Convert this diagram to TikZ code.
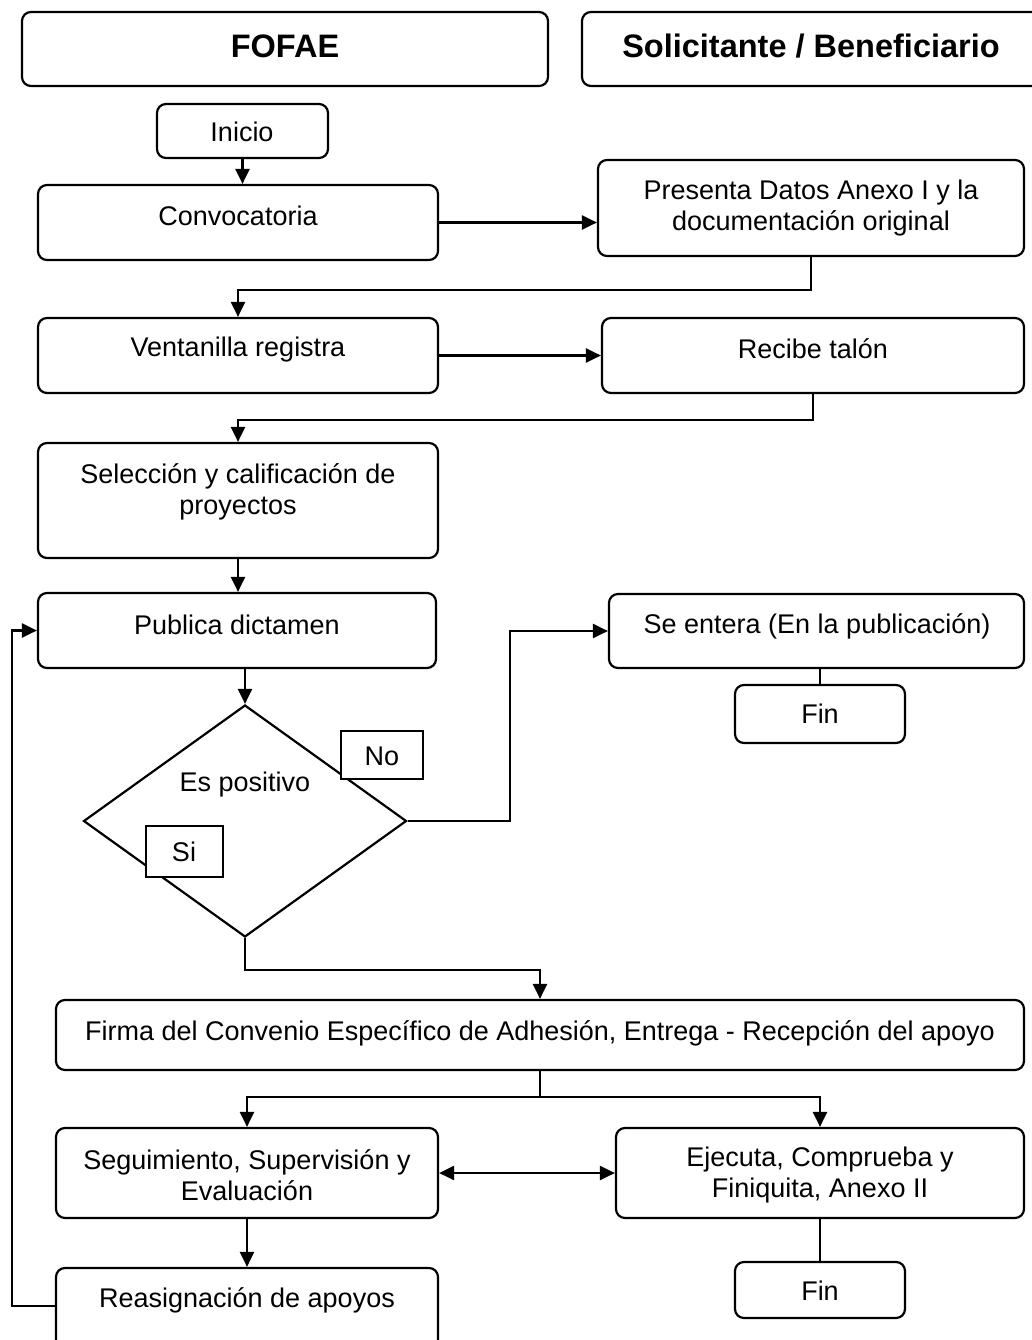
\documentclass[tikz,border=0pt]{standalone}
\usepackage{fontspec}
\setmainfont{Liberation Sans}
\usetikzlibrary{arrows.meta,shapes.geometric}
\tikzset{
  box/.style={draw, line width=2.2pt, rounded corners=9pt, inner sep=0pt, fill=white},
  sqbox/.style={draw, line width=2.4pt, inner sep=0pt, fill=white},
  txt/.style={font=\fontsize{27}{31}\selectfont, align=center, inner sep=0pt},
  hdr/.style={font=\fontsize{32.5}{38}\selectfont\bfseries, inner sep=0pt},
  conn/.style={line width=2.2pt},
  arr/.style={line width=2.2pt, -{Triangle[length=15pt,width=14pt]}},
  darr/.style={line width=2.2pt, {Triangle[length=15pt,width=14pt]}-{Triangle[length=15pt,width=14pt]}},
}
\newcommand{\mybox}[6][box]{\node[#1, minimum width={#5-#3}, minimum height={#6-#4}] (#2) at ({(#3+#5)/2},{(#4+#6)/2}) {};}
\begin{document}
\begin{tikzpicture}[x=1pt,y=-1pt]
\useasboundingbox (0,0) rectangle (1031,1340);
% headers
\mybox{hfo}{22}{12}{548}{86}
\node[hdr] (thfo) at (285,46) {FOFAE};
\mybox{hsol}{582}{12}{1044}{86}
\node[hdr] (thsol) at (811,46) {Solicitante / Beneficiario};
% boxes
\mybox{ini}{157}{104}{328}{158}
\node[txt] (tini) at (242,132) {Inicio};
\mybox{conv}{38}{185}{438}{260}
\node[txt] (tconv) at (238,216) {Convocatoria};
\mybox{pres}{598}{160}{1024}{256}
\node[txt] (tpres) at (811,208) {Presenta Datos Anexo I y la\\documentación original};
\mybox{vent}{38}{318}{438}{393}
\node[txt] (tvent) at (238,350) {Ventanilla registra};
\mybox{rec}{602}{318}{1024}{393}
\node[txt] (trec) at (813,349) {Recibe talón};
\mybox{sel}{38}{443}{438}{558}
\node[txt] (tsel) at (238,492) {Selección y calificación de\\proyectos};
\mybox{pub}{38}{593}{436}{668}
\node[txt] (tpub) at (237,625) {Publica dictamen};
\mybox{sent}{609}{594}{1024}{668}
\node[txt] (tsent) at (817,626) {Se entera (En la publicación)};
\mybox{fin1}{735}{685}{905}{743}
\node[txt] (tfin1) at (820,714) {Fin};
% diamond
\node[draw, diamond, line width=2.2pt, inner sep=0pt, minimum width=323pt, minimum height=232pt] (dia) at (245,821) {};
\node[txt] (tdia) at (245,785) {Es positivo};
\mybox[sqbox]{nob}{341}{731}{423}{779}
\node[txt] (tno) at (382,756) {No};
\mybox[sqbox]{sib}{146}{826}{223}{877}
\node[txt] (tsi) at (184,852) {Si};
\mybox{firma}{56}{1000}{1024}{1070}
\node[txt] (tfirma) at (540,1033) {Firma del Convenio Específico de Adhesión, Entrega - Recepción del apoyo};
\mybox{seg}{56}{1128}{438}{1218}
\node[txt] (tseg) at (247,1175) {Seguimiento, Supervisión y\\Evaluación};
\mybox{eje}{616}{1128}{1024}{1218}
\node[txt] (teje) at (820,1175) {Ejecuta, Comprueba y\\Finiquita, Anexo II};
\mybox{reas}{56}{1268}{438}{1350}
\node[txt] (treas) at (247,1300) {Reasignación de apoyos};
\mybox{fin2}{735}{1262}{905}{1318}
\node[txt] (tfin2) at (820,1291) {Fin};
% connectors
\draw[arr] (ini.south) -- (ini.south |- conv.north);
\draw[arr] (conv.east) -- (conv.east -| pres.west);
\draw[arr] (pres.south) -- (pres.south |- 0,290) -| (vent.north);
\draw[arr] (vent.east) -- (vent.east -| rec.west);
\draw[arr] (rec.south) -- (rec.south |- 0,420) -| (sel.north);
\draw[arr] (sel.south) -- (sel.south |- pub.north);
\draw[arr] (dia.north |- pub.south) -- (dia.north);
\draw[arr] (dia.east) -- (510,821) |- (sent.west);
\draw[conn] (sent.south -| fin1.north) -- (fin1.north);
\draw[arr] (dia.south) -- (245,970) -| (firma.north);
\draw[conn] (firma.south) -- (540,1097) coordinate (split);
\draw[arr] (split) -| (seg.north);
\draw[arr] (split) -| (eje.north);
\draw[darr] (seg.east) -- (eje.west);
\draw[arr] (seg.south) -- (reas.north);
\draw[conn] (eje.south) -- (fin2.north);
\draw[arr] (reas.west |- 0,1306) -- (12,1306) |- (pub.west);
\end{tikzpicture}
\end{document}
